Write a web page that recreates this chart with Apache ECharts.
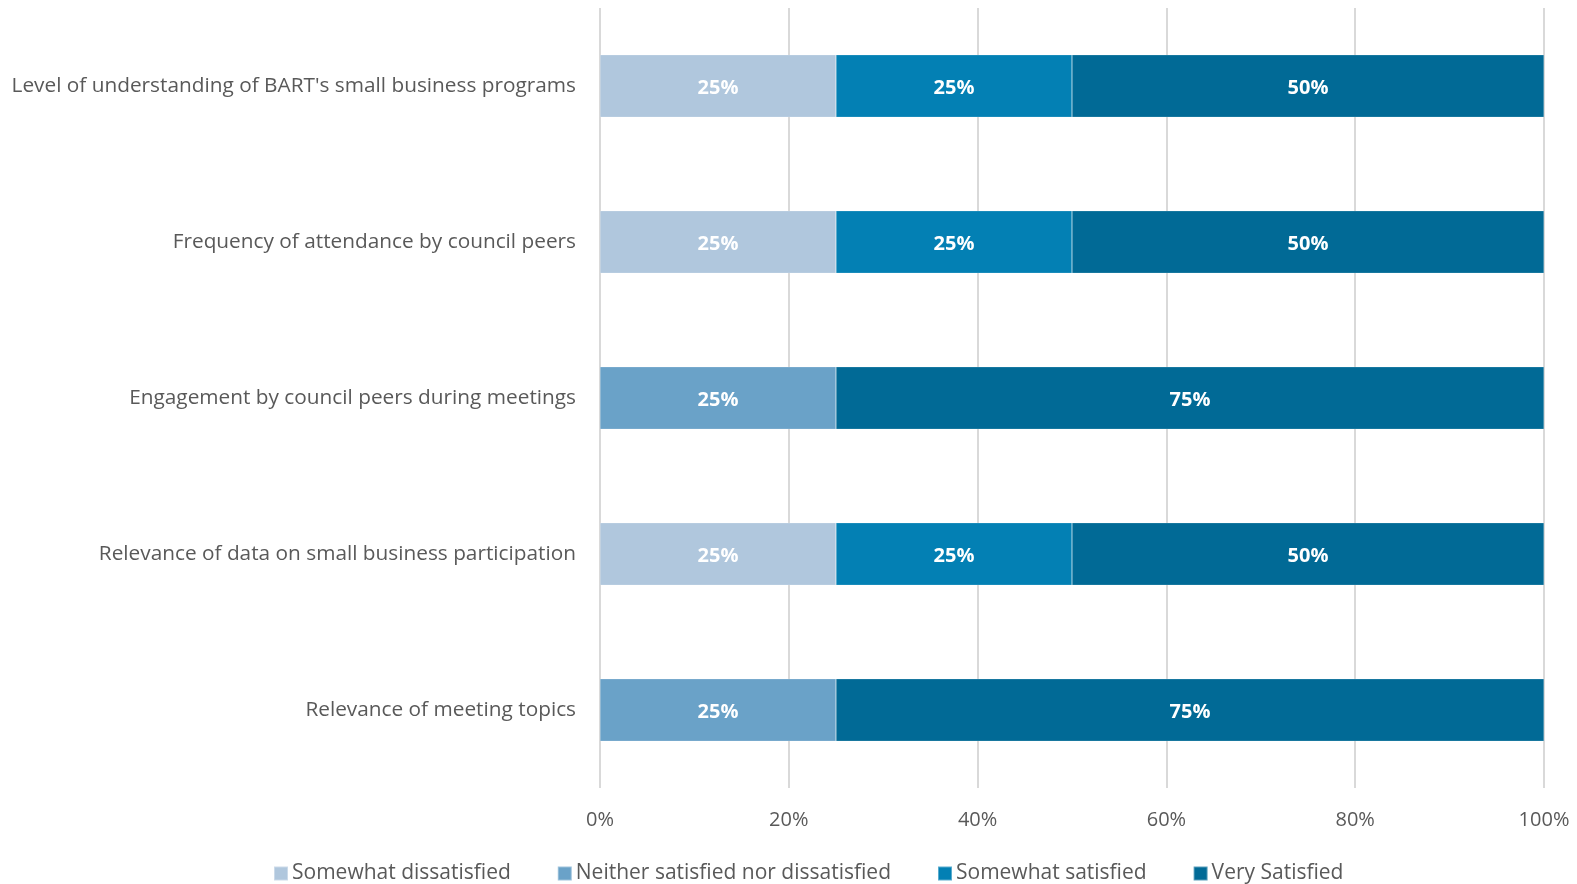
<!DOCTYPE html>
<html>
<head>
<meta charset="utf-8">
<script src="https://cdn.jsdelivr.net/npm/echarts@6/dist/echarts.min.js"></script>
<style>
  html, body { margin: 0; padding: 0; background: #fff; }
  #chart { width: 1577px; height: 884px; }
</style>
</head>
<body>
<div id="chart"></div>
<script>
const categories = [
  "Level of understanding of BART's small business programs",
  'Frequency of attendance by council peers',
  'Engagement by council peers during meetings',
  'Relevance of data on small business participation',
  'Relevance of meeting topics'
];
const somewhatDissatisfied = [25, 25, 0, 25, 0];
const neitherSatisfied = [0, 0, 25, 0, 25];
const somewhatSatisfied = [25, 25, 0, 25, 0];
const verySatisfied = [50, 50, 75, 50, 75];
const xTicks = [0, 20, 40, 60, 80, 100];

const fontFamily = '"Open Sans", "Noto Sans", sans-serif';

const makeSeries = (name, values, color) => ({
  name,
  type: 'bar',
  stack: 'total',
  barCategoryGap: '60%',
  data: values.map(v => (v === 0 ? null : v)),
  itemStyle: { color, borderColor: 'rgba(255,255,255,0.35)', borderWidth: 0.5 },
  label: {
    show: true,
    formatter: p => p.value + '%',
    color: '#fff',
    fontFamily,
    fontWeight: 'bold',
    fontSize: 20,
    offset: [0, 2]
  }
});

const chart = echarts.init(document.getElementById('chart'));
chart.setOption({
  animation: false,
  textStyle: { fontFamily },
  grid: { left: 600, right: 33, top: 8, bottom: 96 },
  legend: {
    top: 858,
    left: 268,
    itemWidth: 14,
    itemHeight: 14,
    itemGap: 46,
    icon: 'rect',
    textStyle: { color: '#595959', fontSize: 21, fontFamily, padding: [0, 0, 0, -1] },
    data: ['Somewhat dissatisfied', 'Neither satisfied nor dissatisfied', 'Somewhat satisfied', 'Very Satisfied']
  },
  xAxis: {
    type: 'value',
    min: xTicks[0],
    max: xTicks[xTicks.length - 1],
    interval: 20,
    axisLine: { show: false },
    axisTick: { show: false },
    splitLine: { lineStyle: { color: '#d9d9d9', width: 2 } },
    axisLabel: { formatter: '{value}%', color: '#595959', fontSize: 20, margin: 22, fontFamily }
  },
  yAxis: {
    type: 'category',
    inverse: true,
    data: categories,
    axisLine: { show: false },
    axisTick: { show: false },
    axisLabel: { color: '#595959', fontSize: 20.8, margin: 24, fontFamily }
  },
  series: [
    makeSeries('Somewhat dissatisfied', somewhatDissatisfied, '#b0c7dd'),
    makeSeries('Neither satisfied nor dissatisfied', neitherSatisfied, '#6aa2c8'),
    makeSeries('Somewhat satisfied', somewhatSatisfied, '#0380b4'),
    makeSeries('Very Satisfied', verySatisfied, '#016a96')
  ]
});
</script>
</body>
</html>
